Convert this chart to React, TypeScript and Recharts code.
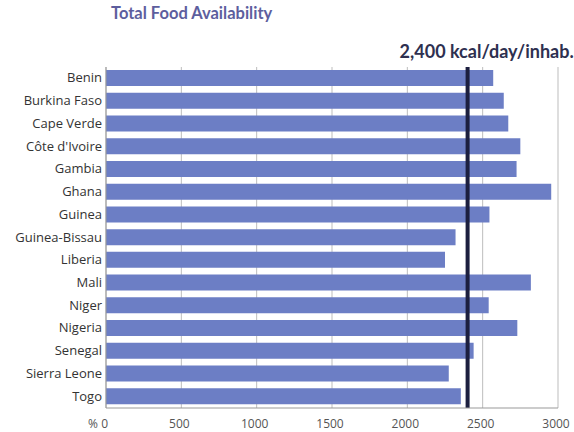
import React from "react";
import {
  BarChart,
  Bar,
  XAxis,
  YAxis,
  CartesianGrid,
  ReferenceLine,
} from "recharts";

const countries = [
  "Benin",
  "Burkina Faso",
  "Cape Verde",
  "Côte d'Ivoire",
  "Gambia",
  "Ghana",
  "Guinea",
  "Guinea-Bissau",
  "Liberia",
  "Mali",
  "Niger",
  "Nigeria",
  "Senegal",
  "Sierra Leone",
  "Togo",
];

const kcalPerDay = [
  2570, 2640, 2670, 2750, 2725, 2955, 2545, 2320, 2250, 2820, 2540, 2730,
  2440, 2275, 2355,
];

const xTicks = [0, 500, 1000, 1500, 2000, 2500, 3000];
const threshold = 2400;
const thresholdLabel = "2,400 kcal/day/inhab.";
const title = "Total Food Availability";

const data = countries.map((name, i) => ({ name, value: kcalPerDay[i] }));

const FONT = "Lato, 'Open Sans', sans-serif";
const TICK_FONT = "'Open Sans', Lato, sans-serif";

const XTick = (props: any) => {
  const { x, y, payload } = props;
  const isZero = payload.value === 0;
  return (
    <text
      x={isZero ? x + 2 : x - 2}
      y={y + 12}
      textAnchor={isZero ? "end" : "middle"}
      fill="#555"
      fontSize={12}
      fontFamily={TICK_FONT}
    >
      {isZero ? "% 0" : String(payload.value)}
    </text>
  );
};

const YTick = (props: any) => {
  const { x, y, payload } = props;
  return (
    <text
      x={x}
      y={y + 4}
      textAnchor="end"
      fill="#333"
      fontSize={13}
      fontFamily={TICK_FONT}
    >
      {payload.value}
    </text>
  );
};

const RefLabel = (props: any) => {
  const { viewBox } = props;
  return (
    <text
      x={viewBox.x - 68}
      y={58}
      fill="#2e3050"
      fontSize={18}
      fontWeight="bold"
      fontFamily={FONT}
    >
      {thresholdLabel}
    </text>
  );
};

export default function App() {
  return (
    <div
      style={{
        position: "absolute",
        left: 0,
        top: 0,
        width: 574,
        height: 432,
        background: "#fff",
      }}
    >
      <div
        style={{
          position: "absolute",
          left: 111,
          top: 3,
          fontFamily: FONT,
          fontWeight: "bold",
          fontSize: 16.5,
          color: "#5d5e9e",
        }}
      >
        {title}
      </div>
      <BarChart
        width={574}
        height={432}
        data={data}
        layout="vertical"
        margin={{ top: 67, right: 16, left: 0, bottom: 0 }}
        barCategoryGap={3.5}
      >
        <CartesianGrid
          horizontal={false}
          vertical={true}
          stroke="#bdbdbd"
          strokeWidth={1}
        />
        <XAxis
          type="number"
          domain={[0, 3000]}
          ticks={xTicks}
          tick={<XTick />}
          tickLine={false}
          axisLine={{ stroke: "#999" }}
          height={24}
          interval={0}
        />
        <YAxis
          type="category"
          dataKey="name"
          width={106}
          tick={<YTick />}
          tickLine={false}
          tickSize={0}
          tickMargin={4}
          axisLine={{ stroke: "#999" }}
          interval={0}
        />
        <Bar
          dataKey="value"
          fill="#6c7ec5"
          barSize={16}
          isAnimationActive={false}
        />
        <ReferenceLine
          x={threshold}
          stroke="#1c1f3f"
          strokeWidth={4}
          label={<RefLabel />}
        />
      </BarChart>
    </div>
  );
}
